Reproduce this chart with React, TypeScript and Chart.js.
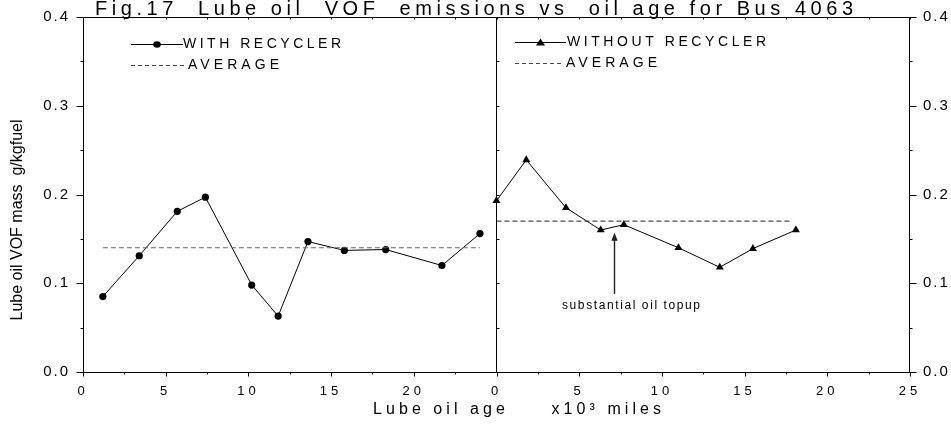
import React, { useEffect, useRef } from 'react';
import Chart from 'chart.js/auto';

// ---- data ----
const withAge = [1.2, 3.4, 5.7, 7.4, 10.2, 11.8, 13.6, 15.8, 18.3, 21.7, 24.0];
const withVOF = [0.085, 0.131, 0.181, 0.197, 0.098, 0.063, 0.147, 0.137, 0.138, 0.12, 0.156];
const withAvg = 0.14;
const withoutAge = [0.0, 1.8, 4.2, 6.3, 7.7, 11.0, 13.5, 15.5, 18.1];
const withoutVOF = [0.193, 0.239, 0.185, 0.16, 0.166, 0.14, 0.118, 0.139, 0.16];
const withoutAvg = 0.17;
const withoutAvgEnd = 17.9;
const panelSpan = 25;
const xMinorStep = 2.5;
const yMax = 0.4;
const yMinorStep = 0.05;

const titleText = 'Fig.17  Lube oil  VOF  emissions vs  oil age for Bus 4063';
const yTitleText = 'Lube oil VOF mass  g/kgfuel';
const xTitleText = 'Lube oil age     x10\u00B3 miles';
const legendWith = 'WITH RECYCLER';
const legendWithout = 'WITHOUT RECYCLER';
const legendAvg = 'AVERAGE';
const noteText = 'substantial oil topup';
const noteArrowX = 7.1;
const noteArrowFrom = 0.088;
const noteArrowTo = 0.157;

const FONT = '"Liberation Sans", Arial, Helvetica, sans-serif';

function spaced(ctx: any, text: string, x: number, y: number, size: number, width: number) {
  ctx.save();
  ctx.font = `${size}px ${FONT}`;
  ctx.letterSpacing = '0px';
  const w = ctx.measureText(text).width;
  const ls = text.length > 1 ? (width - w) / (text.length - 1) : 0;
  ctx.letterSpacing = `${ls}px`;
  ctx.textBaseline = 'middle';
  ctx.textAlign = 'left';
  ctx.fillStyle = '#000';
  ctx.fillText(text, x, y);
  ctx.restore();
}

function patchLabels(scale: any, spacing: string) {
  if (!scale || scale.__spaced) return;
  const orig = scale.drawLabels.bind(scale);
  scale.drawLabels = (ca: any) => {
    const c = scale.ctx;
    c.save();
    c.letterSpacing = spacing;
    orig(ca);
    c.restore();
  };
  scale.__spaced = true;
}

const decorPlugin = {
  id: 'decor',
  afterLayout(chart: any) {
    patchLabels(chart.scales.x, '4px');
    patchLabels(chart.scales.y, '2px');
    patchLabels(chart.scales.y2, '2px');
  },
  afterDraw(chart: any) {
    const ctx = chart.ctx;
    const a = chart.chartArea;
    const xs = chart.scales.x;
    const ys = chart.scales.y;
    ctx.save();
    ctx.letterSpacing = '0px';
    ctx.strokeStyle = '#000';
    ctx.lineWidth = 1;
    const L = Math.round(a.left) + 0.5;
    const R = Math.round(a.right) - 0.5;
    const T = Math.round(a.top) + 0.5;
    const B = Math.round(a.bottom) + 0.5;
    const M = Math.floor(xs.getPixelForValue(panelSpan)) + 0.5;
    ctx.beginPath();
    ctx.moveTo(L, T); ctx.lineTo(R, T); ctx.lineTo(R, B); ctx.lineTo(L, B); ctx.closePath();
    ctx.moveTo(M, T); ctx.lineTo(M, B);
    const nx = Math.round((2 * panelSpan) / xMinorStep);
    for (let i = 0; i <= nx; i++) {
      const px = Math.round(xs.getPixelForValue(i * xMinorStep)) + 0.5;
      const major = i % 2 === 0;
      ctx.moveTo(px, B); ctx.lineTo(px, B + (major ? 4 : 2));
      ctx.moveTo(px, T); ctx.lineTo(px, T + 2);
    }
    const ny = Math.round(yMax / yMinorStep);
    for (let i = 0; i <= ny; i++) {
      const py = Math.round(ys.getPixelForValue(i * yMinorStep)) + 0.5;
      const major = i % 2 === 0;
      ctx.moveTo(L, py); ctx.lineTo(L - (major ? 7 : 3), py);
      ctx.moveTo(R, py); ctx.lineTo(R + (major ? 7 : 3), py);
      ctx.moveTo(M, py); ctx.lineTo(M + 3, py);
    }
    ctx.stroke();

    // legends
    ctx.beginPath();
    ctx.moveTo(131, 44.5); ctx.lineTo(183, 44.5);
    ctx.moveTo(515, 42.5); ctx.lineTo(566, 42.5);
    ctx.stroke();
    ctx.fillStyle = '#000';
    ctx.beginPath(); ctx.ellipse(157, 44.5, 3.8, 3.2, 0, 0, Math.PI * 2); ctx.fill();
    ctx.beginPath(); ctx.moveTo(540.5, 38.5); ctx.lineTo(545, 45.5); ctx.lineTo(536, 45.5); ctx.closePath(); ctx.fill();
    ctx.setLineDash([4, 3]);
    ctx.strokeStyle = '#444';
    ctx.beginPath();
    ctx.moveTo(131, 65.5); ctx.lineTo(184, 65.5);
    ctx.moveTo(515, 63.5); ctx.lineTo(561, 63.5);
    ctx.stroke();
    ctx.setLineDash([]);

    // annotation arrow
    const ax = Math.round(xs.getPixelForValue(panelSpan + noteArrowX)) + 0.5;
    const ay0 = ys.getPixelForValue(noteArrowFrom);
    const ay1 = ys.getPixelForValue(noteArrowTo);
    ctx.strokeStyle = '#222';
    ctx.lineWidth = 1.4;
    ctx.beginPath(); ctx.moveTo(ax, ay0); ctx.lineTo(ax, ay1 + 6); ctx.stroke();
    ctx.fillStyle = '#222';
    ctx.beginPath(); ctx.moveTo(ax, ay1); ctx.lineTo(ax + 3.2, ay1 + 8); ctx.lineTo(ax - 3.2, ay1 + 8); ctx.closePath(); ctx.fill();
    ctx.restore();

    spaced(ctx, legendWith, 183, 44.5, 14, 158);
    spaced(ctx, legendAvg, 188, 65.5, 14, 91);
    spaced(ctx, legendWithout, 567, 42.5, 14, 199);
    spaced(ctx, legendAvg, 566, 63.5, 14, 91);
    spaced(ctx, noteText, 562, 306, 12, 138);
    spaced(ctx, titleText, 95, 9, 20, 758);
    spaced(ctx, xTitleText, 373, 410, 16, 288);

    ctx.save();
    ctx.letterSpacing = '0px';
    ctx.translate(18, 220);
    ctx.rotate(-Math.PI / 2);
    ctx.font = `16px ${FONT}`;
    ctx.fillStyle = '#000';
    ctx.textAlign = 'center';
    ctx.textBaseline = 'middle';
    ctx.fillText(yTitleText, 0, 0);
    ctx.restore();
  },
};

export default function App() {
  const ref = useRef<HTMLCanvasElement>(null);
  useEffect(() => {
    document.body.style.margin = '0';
    const canvas = ref.current!;
    const withData = withAge.map((x, i) => ({ x, y: withVOF[i] }));
    const withoutData = withoutAge.map((x, i) => ({ x: x + panelSpan, y: withoutVOF[i] }));
    const withAvgData = [
      { x: withAge[0], y: withAvg },
      { x: withAge[withAge.length - 1], y: withAvg },
    ];
    const withoutAvgData = [
      { x: panelSpan + withoutAge[0], y: withoutAvg },
      { x: panelSpan + withoutAvgEnd, y: withoutAvg },
    ];
    const yTickCallback = (v: any) => {
      const n = Number(v);
      if (Math.abs(n * 10 - Math.round(n * 10)) > 1e-6) return '';
      return n.toFixed(1);
    };
    const chart = new Chart(canvas, {
      type: 'line',
      data: {
        datasets: [
          {
            label: 'WITH RECYCLER AVERAGE',
            data: withAvgData,
            borderColor: '#666',
            borderWidth: 1,
            borderDash: [5, 3],
            pointRadius: 0,
          },
          {
            label: 'WITHOUT RECYCLER AVERAGE',
            data: withoutAvgData,
            borderColor: '#222',
            borderWidth: 1,
            borderDash: [5, 3],
            pointRadius: 0,
          },
          {
            label: 'WITH RECYCLER',
            data: withData,
            borderColor: '#000',
            backgroundColor: '#000',
            borderWidth: 1,
            pointStyle: 'circle',
            pointRadius: 3.6,
            pointBorderWidth: 0,
          },
          {
            label: 'WITHOUT RECYCLER',
            data: withoutData,
            borderColor: '#000',
            backgroundColor: '#000',
            borderWidth: 1,
            pointStyle: 'triangle',
            pointRadius: 4.6,
            pointBorderWidth: 0,
          },
        ],
      },
      options: {
        animation: false,
        responsive: false,
        devicePixelRatio: 1,
        layout: { padding: { top: 17, left: 0, right: 0, bottom: 0 } },
        plugins: { legend: { display: false }, tooltip: { enabled: false }, title: { display: false } },
        elements: { line: { tension: 0 } },
        scales: {
          x: {
            type: 'linear',
            min: 0,
            max: 2 * panelSpan,
            border: { display: false },
            grid: { display: true, drawOnChartArea: false, drawTicks: true, tickLength: 4, color: 'rgba(0,0,0,0)' },
            ticks: {
              stepSize: xMinorStep,
              autoSkip: false,
              maxRotation: 0,
              color: '#000',
              font: { family: FONT, size: 13 },
              padding: 8,
              callback: (v: any) => {
                const n = Number(v);
                if (Math.abs(n / 5 - Math.round(n / 5)) > 1e-6) return '';
                return String(n < panelSpan ? n : n - panelSpan);
              },
            },
            afterFit: (s: any) => { s.height = 56; },
          },
          y: {
            type: 'linear',
            position: 'left',
            min: 0,
            max: yMax,
            border: { display: false },
            grid: { display: true, drawOnChartArea: false, drawTicks: true, tickLength: 7, color: 'rgba(0,0,0,0)' },
            ticks: {
              stepSize: yMinorStep,
              autoSkip: false,
              color: '#000',
              font: { family: FONT, size: 15 },
              padding: 6,
              callback: yTickCallback,
            },
            afterFit: (s: any) => { s.width = 83; },
          },
          y2: {
            type: 'linear',
            position: 'right',
            min: 0,
            max: yMax,
            border: { display: false },
            grid: { display: true, drawOnChartArea: false, drawTicks: true, tickLength: 7, color: 'rgba(0,0,0,0)' },
            ticks: {
              stepSize: yMinorStep,
              autoSkip: false,
              color: '#000',
              font: { family: FONT, size: 15 },
              padding: 6,
              callback: yTickCallback,
            },
            afterFit: (s: any) => { s.width = 41; },
          },
        },
      } as any,
      plugins: [decorPlugin],
    });
    return () => chart.destroy();
  }, []);
  return (
    <div style={{ width: 951, height: 428, position: 'relative' }}>
      <canvas ref={ref} width={951} height={428} style={{ display: 'block' }} />
    </div>
  );
}
